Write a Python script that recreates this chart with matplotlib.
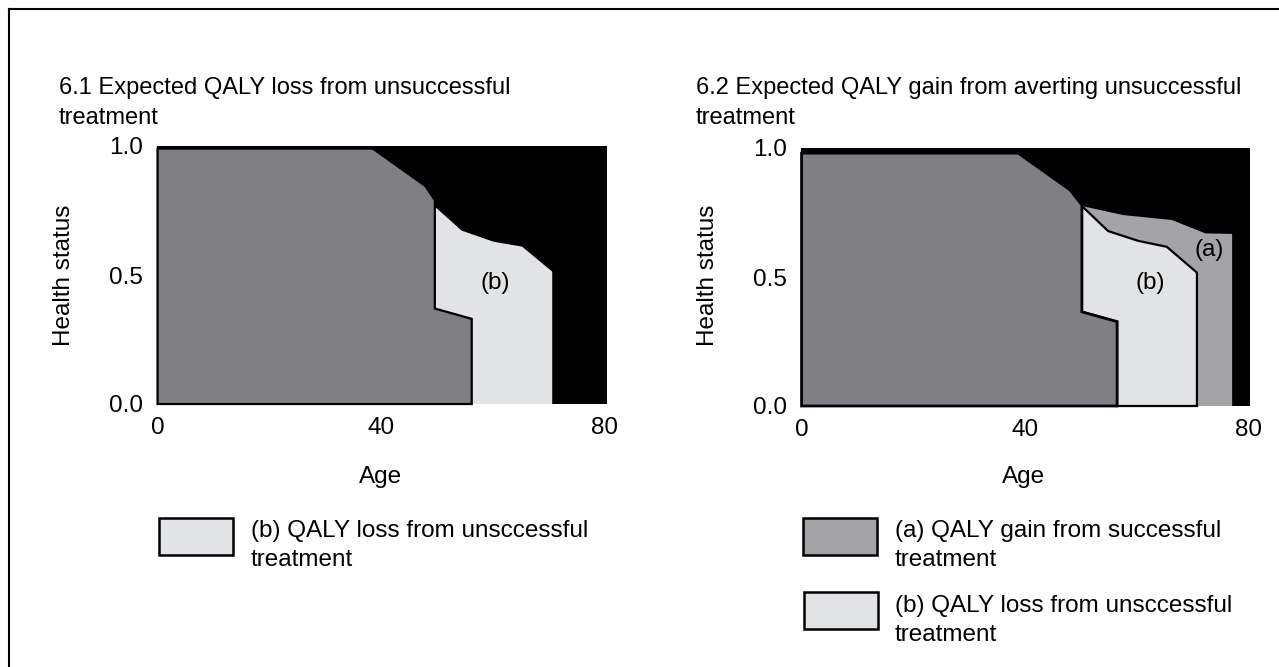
import matplotlib
matplotlib.use('Agg')
import matplotlib.pyplot as plt
from matplotlib.patches import Polygon, Rectangle
from matplotlib.lines import Line2D

plt.rcParams['font.family'] = ['Liberation Sans', 'DejaVu Sans']

# Panel 6.1: expected QALY loss from unsuccessful treatment
left_grey_age = [0, 0, 38.5, 47.9, 49.6, 49.6, 56.2, 56.2]
left_grey_health = [0, 0.99, 0.99, 0.845, 0.79, 0.37, 0.33, 0]
left_b_age = [49.6, 49.6, 54.4, 60.1, 65.2, 70.6, 70.6, 56.2, 56.2]
left_b_health = [0.37, 0.765, 0.672, 0.629, 0.61, 0.513, 0, 0, 0.33]

# Panel 6.2: expected QALY gain from averting unsuccessful treatment
right_grey_age = [0, 0, 38.8, 48.1, 50.2, 50.2, 56.5, 56.5]
right_grey_health = [0, 0.98, 0.98, 0.837, 0.779, 0.365, 0.327, 0]
right_a_age = [50.2, 57.6, 66.3, 72.3, 77.1, 77.1, 50.2]
right_a_health = [0.775, 0.740, 0.721, 0.669, 0.667, 0, 0]
right_b_age = [50.2, 50.2, 54.9, 60.3, 65.4, 70.8, 70.8, 56.5, 56.5]
right_b_health = [0.365, 0.775, 0.678, 0.640, 0.617, 0.517, 0, 0, 0.327]

x_ticks = [0, 40, 80]
y_ticks = [0.0, 0.5, 1.0]

DARK = '#807f84'
LIGHT = '#e2e3e5'
MID = '#a4a3a7'
FS = 17.5

W, H = 1279, 667
fig = plt.figure(figsize=(W / 100, H / 100), dpi=100)


def px_axes(x0, x1, ytop, ybot):
    return fig.add_axes([x0 / W, 1 - ybot / H, (x1 - x0) / W, (ybot - ytop) / H])


def style(ax, xlim):
    ax.set_facecolor('black')
    ax.set_xlim(*xlim)
    ax.set_ylim(0, 1.0)
    ax.set_xticks(x_ticks)
    ax.set_yticks(y_ticks)
    ax.set_yticklabels(['0.0', '0.5', '1.0'])
    ax.tick_params(length=0, labelsize=FS)
    ax.tick_params(axis='x', pad=9)
    ax.tick_params(axis='y', pad=10)
    for s in ax.spines.values():
        s.set_visible(False)


def poly(ax, xs, ys, color, edge=True, lw=1.6):
    p = Polygon(list(zip(xs, ys)), closed=True, facecolor=color,
                edgecolor='black' if edge else 'none', linewidth=lw,
                joinstyle='miter', clip_on=False)
    ax.add_patch(p)


# left panel
ax1 = px_axes(157, 607, 146, 404)
style(ax1, (-0.1, 80.4))
poly(ax1, left_b_age, left_b_health, LIGHT, edge=False)
poly(ax1, left_grey_age, left_grey_health, DARK)
ax1.text(60.4, 0.47, '(b)', fontsize=FS, ha='center', va='center')

# right panel
ax2 = px_axes(801, 1250, 148, 406)
style(ax2, (-0.1, 80.3))
poly(ax2, right_a_age, right_a_health, MID, edge=False)
poly(ax2, right_b_age, right_b_health, LIGHT)
poly(ax2, right_grey_age, right_grey_health, DARK, lw=2.0)
ax2.text(62.4, 0.477, '(b)', fontsize=FS, ha='center', va='center')
ax2.text(73.0, 0.605, '(a)', fontsize=FS, ha='center', va='center')


def ftext(x, y, s, size=FS, **kw):
    fig.text(x / W, 1 - y / H, s, fontsize=size, **kw)


ftext(59, 88, '6.1 Expected QALY loss from unsuccessful', size=17, va='center')
ftext(59, 118, 'treatment', size=17, va='center')
ftext(696, 88, '6.2 Expected QALY gain from averting unsuccessful', size=17, va='center')
ftext(696, 118, 'treatment', size=17, va='center')

ftext(64, 275, 'Health status', rotation=90, ha='center', va='center')
ftext(708, 275, 'Health status', rotation=90, ha='center', va='center')
ftext(381, 477, 'Age', ha='center', va='center')
ftext(1024, 477, 'Age', ha='center', va='center')


def legend_box(x, y, color):
    fig.patches.append(Rectangle((x / W, 1 - (y + 37) / H), 74 / W, 37 / H,
                                 transform=fig.transFigure, facecolor=color,
                                 edgecolor='black', linewidth=1.8))


legend_box(159, 518, LIGHT)
ftext(251, 531, '(b) QALY loss from unsccessful', va='center')
ftext(251, 560, 'treatment', va='center')

legend_box(803, 518, MID)
ftext(895, 531, '(a) QALY gain from successful', va='center')
ftext(895, 560, 'treatment', va='center')
legend_box(804, 592, LIGHT)
ftext(895, 606, '(b) QALY loss from unsccessful', va='center')
ftext(895, 635, 'treatment', va='center')

# outer frame (left and top edges)
fig.add_artist(Line2D([9 / W, 9 / W], [0, 1 - 9 / H], transform=fig.transFigure,
                      color='black', linewidth=1.5))
fig.add_artist(Line2D([9 / W, 1], [1 - 9 / H, 1 - 9 / H], transform=fig.transFigure,
                      color='black', linewidth=1.5))

fig.savefig('out.png', dpi=100)
